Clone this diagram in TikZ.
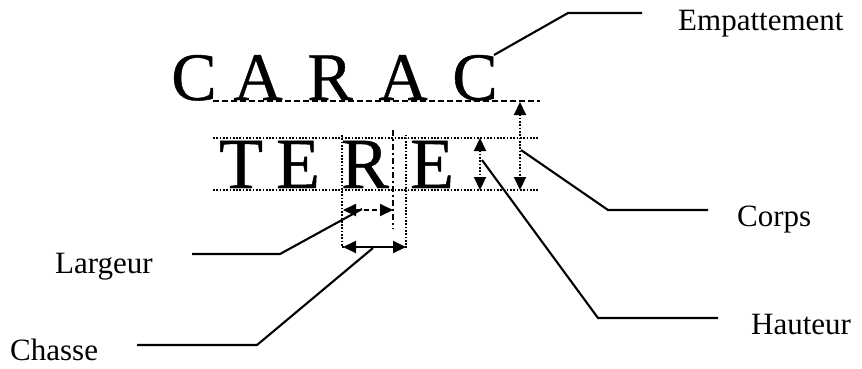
\documentclass[tikz,border=0pt]{standalone}
\usepackage{fontspec}
\setmainfont{Liberation Serif}
\newfontfamily\bigserif[FakeBold=0.6]{Liberation Serif}
\usetikzlibrary{arrows.meta}
\tikzset{
  big/.style={inner sep=0pt, anchor=base, font=\bigserif\fontsize{68}{68}\selectfont},
  bigt/.style={inner sep=0pt, anchor=base, font=\bigserif\fontsize{72}{72}\selectfont},
  lbl/.style={inner sep=0pt, anchor=base west, font=\fontsize{31}{31}\selectfont},
  dotl/.style={line width=2.1pt, dash pattern=on 1.7pt off 1.6pt},
  dashl/.style={line width=2pt, dash pattern=on 6pt off 3pt},
  dashdot/.style={line width=2pt, dash pattern=on 6pt off 3pt on 2pt off 3pt},
  lead/.style={line width=2.1pt},
  tip/.style={{Triangle[length=13pt,width=12pt]}-{Triangle[length=13pt,width=12pt]}},
}
\begin{document}
\begin{tikzpicture}[x=1pt,y=-1pt]
\useasboundingbox (0,0) rectangle (862,368);
% CARAC
\node[big] (c1) at (194,100) {C};
\node[big] (c2) at (258,100) {A};
\node[big] (c3) at (330,100) {R};
\node[big] (c4) at (403,100) {A};
\node[big] (c5) at (475,100) {C};
% TERE
\node[bigt] (t1) at (241,188) {T};
\node[bigt] (t2) at (298,188) {E};
\node[bigt] (t3) at (365,188) {R};
\node[bigt] (t4) at (432,188) {E};
% guide lines
\coordinate (bl1) at (213,101); \coordinate (bl2) at (540,101);
\draw[dashl] (bl1) -- (bl2);
\coordinate (tl1) at (213,138); \coordinate (tl2) at (538,138);
\draw[dotl] (tl1) -- (tl2);
\coordinate (bb1) at (213,190); \coordinate (bb2) at (538,190);
\draw[dotl] (bb1) -- (bb2);
% R width box
\coordinate (va1) at (342,135); \coordinate (va2) at (342,247);
\coordinate (vb1) at (406,135); \coordinate (vb2) at (406,247);
\draw[dotl] (va1) -- (va2) -- (vb2) -- (vb1);
\coordinate (vc1) at (393,130); \coordinate (vc2) at (393,229);
\draw[dashdot] (vc1) -- (vc2);
% arrows
\coordinate (la1) at (343,210); \coordinate (la2) at (393,210);
\draw[tip, line width=1.9pt, dash pattern=on 5pt off 3pt] (la1) -- (la2);
\coordinate (ch1) at (343,247); \coordinate (ch2) at (406,247);
\draw[tip, line width=2.1pt] (ch1) -- (ch2);
\coordinate (ha1) at (480,138); \coordinate (ha2) at (480,190);
\draw[tip, dotl] (ha1) -- (ha2);
\coordinate (co1) at (520,102); \coordinate (co2) at (520,190);
\draw[tip, dotl] (co1) -- (co2);
% labels
\node[lbl] (emp) at (678,30) {Empattement};
\node[lbl] (corps) at (737,226) {Corps};
\node[lbl] (haut) at (751,334) {Hauteur};
\node[lbl] (larg) at (55,273) {Largeur};
\node[lbl] (chas) at (10,360) {Chasse};
% leaders
\coordinate (e0) at (494,55); \coordinate (e1) at (568,13); \coordinate (e2) at (642,13);
\draw[lead] (e0) -- (e1) -- (e2);
\coordinate (k0) at (521,150); \coordinate (k1) at (608,210); \coordinate (k2) at (708,210);
\draw[lead] (k0) -- (k1) -- (k2);
\coordinate (h0) at (482,160); \coordinate (h1) at (598,318); \coordinate (h2) at (718,318);
\draw[lead] (h0) -- (h1) -- (h2);
\coordinate (g0) at (362,209); \coordinate (g1) at (280,254); \coordinate (g2) at (192,254);
\draw[lead] (g0) -- (g1) -- (g2);
\coordinate (s0) at (373,248); \coordinate (s1) at (257,345); \coordinate (s2) at (137,345);
\draw[lead] (s0) -- (s1) -- (s2);
\end{tikzpicture}
\end{document}
